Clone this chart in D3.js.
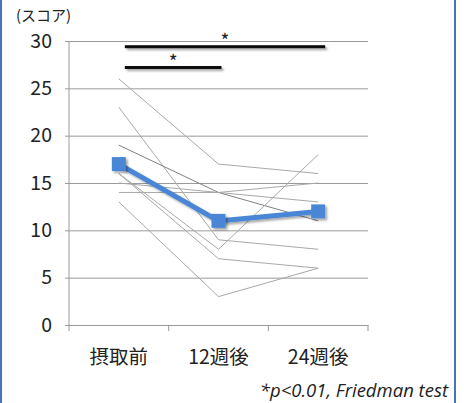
<!DOCTYPE html>
<html>
<head>
<meta charset="utf-8">
<script src="https://cdn.jsdelivr.net/npm/d3@7"></script>
<style>
  body { margin: 0; background: #fff; }
  svg text { font-family: "Noto Sans CJK JP", "Noto Sans", sans-serif; fill: #222; }
</style>
</head>
<body>
<svg width="464" height="403"></svg>
<script>
// categories and values
const categories = ['摂取前', '12週後', '24週後'];
const meanScores = [17, 11, 12];
const subjectScores = [
  [26, 17, 16],
  [23, 9, 8],
  [19, 14, 11],
  [16, 8, 18],
  [16, 7, 6],
  [15, 14, 13],
  [14, 14, 15],
  [13, 3, 6]
];
const yTicks = [0, 5, 10, 15, 20, 25, 30];
// significance brackets: from category, to category, height (score)
const sigBars = [
  {from: 0, to: 2, y: 29.4},
  {from: 0, to: 1, y: 27.2}
];

const svg = d3.select('svg');

// frame sides
svg.append('line').attr('x1', 1).attr('x2', 1).attr('y1', 0).attr('y2', 403)
  .attr('stroke', '#4a74b8').attr('stroke-width', 2);
svg.append('line').attr('x1', 455).attr('x2', 455).attr('y1', 0).attr('y2', 403)
  .attr('stroke', '#4a74b8').attr('stroke-width', 2);

const margin = {top: 41, left: 69};
const width = 299, height = 284;

const defs = svg.append('defs');
const f = defs.append('filter').attr('id', 'shadow')
  .attr('x', '-30%').attr('y', '-50%').attr('width', '160%').attr('height', '250%');
f.append('feDropShadow').attr('dx', 2).attr('dy', 2).attr('stdDeviation', 1.2)
  .attr('flood-color', '#000').attr('flood-opacity', 0.35);

const g = svg.append('g').attr('transform', 'translate(' + margin.left + ',' + margin.top + ')');

const x = d3.scaleBand().domain(categories).range([0, width]);
const y = d3.scaleLinear().domain([0, 30]).range([height, 0]);
const cx = i => x(categories[i]) + x.bandwidth() / 2;

// gridlines + y axis
g.append('g')
  .call(d3.axisLeft(y).tickValues(yTicks).tickSize(-width - 4).tickPadding(13).tickFormat(d3.format('d')))
  .attr('transform', 'translate(-4,0)')
  .call(a => a.select('.domain').remove())
  .call(a => a.selectAll('line').attr('stroke', '#9a9a9a'))
  .call(a => a.selectAll('text').attr('font-size', 19.5).attr('fill', '#222'));

g.append('line').attr('x1', 0).attr('x2', 0).attr('y1', 0).attr('y2', height)
  .attr('stroke', '#9a9a9a');

// x axis
g.append('g')
  .attr('transform', 'translate(0,' + height + ')')
  .call(d3.axisBottom(x).tickSize(0).tickPadding(25))
  .call(a => a.select('.domain').attr('stroke', '#9a9a9a'))
  .call(a => a.selectAll('text').attr('font-size', 19.5).attr('fill', '#222'));

// category boundary ticks
g.selectAll('.xtick')
  .data(d3.range(categories.length + 1))
  .join('line')
  .attr('x1', d => d * x.bandwidth()).attr('x2', d => d * x.bandwidth())
  .attr('y1', height).attr('y2', height + 6)
  .attr('stroke', '#9a9a9a');

// individual subjects
const line = d3.line().x((d, i) => cx(i)).y(d => y(d));
g.selectAll('.subj')
  .data(subjectScores)
  .join('path')
  .attr('fill', 'none')
  .attr('stroke', (d, i) => i === 2 ? '#808080' : '#a8a8a8')
  .attr('stroke-width', 1)
  .attr('d', line);

// mean line
g.append('path')
  .datum(meanScores)
  .attr('fill', 'none')
  .attr('stroke', '#4a86d6')
  .attr('stroke-width', 5)
  .attr('filter', 'url(#shadow)')
  .attr('d', line);

g.selectAll('.marker')
  .data(meanScores)
  .join('rect')
  .attr('x', (d, i) => cx(i) - 7)
  .attr('y', d => y(d) - 7)
  .attr('width', 14).attr('height', 14)
  .attr('fill', '#4a86d6')
  .attr('filter', 'url(#shadow)');

// significance bars
sigBars.forEach(function(b) {
  const x1 = cx(b.from) + 6, x2 = cx(b.to) + (b.to === 2 ? 7 : 3);
  g.append('rect')
    .attr('x', x1).attr('y', y(b.y) - 1.5)
    .attr('width', x2 - x1).attr('height', 3)
    .attr('fill', '#111')
    .attr('filter', 'url(#shadow)');
  g.append('text')
    .attr('x', (x1 + x2) / 2).attr('y', y(b.y) + 1)
    .attr('text-anchor', 'middle')
    .attr('font-size', 19)
    .text('*');
});

// axis unit
svg.append('text').attr('x', 16).attr('y', 21).attr('font-size', 15).text('(スコア)');

// footnote
svg.append('text')
  .attr('x', 448).attr('y', 397)
  .attr('text-anchor', 'end')
  .attr('font-size', 18.5)
  .attr('font-style', 'italic')
  .style('font-family', '"Open Sans", "Noto Sans", sans-serif')
  .text('*p<0.01, Friedman test');
</script>
</body>
</html>
